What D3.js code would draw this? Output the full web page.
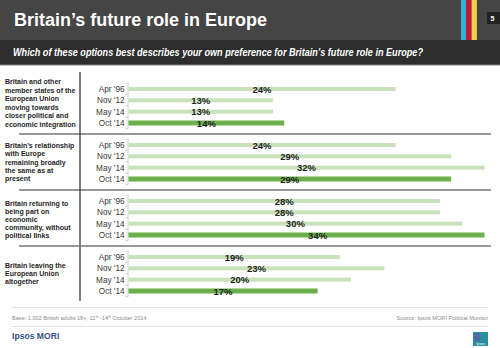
<!DOCTYPE html>
<html>
<head>
<meta charset="utf-8">
<script src="https://cdn.jsdelivr.net/npm/d3@7"></script>
<style>
  html, body { margin: 0; padding: 0; background: #fff; }
  svg { display: block; font-family: "Liberation Sans", Arial, sans-serif; }
</style>
</head>
<body>
<div id="chart"></div>
<script>
// ---- data ----
var periods = ["Apr '96", "Nov '12", "May '14", "Oct '14"];
var categories = ["integration", "same", "economic", "leave"];
var categoryLines = [
  ["Britain and other", "member states of the", "European Union", "moving towards", "closer political and", "economic integration"],
  ["Britain\u2019s relationship", "with Europe", "remaining broadly", "the same as at", "present"],
  ["Britain returning to", "being part on", "economic", "community,  without", "political links"],
  ["Britain leaving the", "European Union", "altogether"]
];
var integrationValues = [24, 13, 13, 14];
var sameValues = [24, 29, 32, 29];
var economicValues = [28, 28, 30, 34];
var leaveValues = [19, 23, 20, 17];

var seriesValues = [integrationValues, sameValues, economicValues, leaveValues];

var width = 500, height = 348;

var svg = d3.select("#chart").append("svg")
    .attr("width", width)
    .attr("height", height);

/* header */
svg.append("rect").attr("x", 0).attr("y", 0).attr("width", width).attr("height", 40).attr("fill", "#454545");
svg.append("rect").attr("x", 0).attr("y", 40).attr("width", width).attr("height", 25).attr("fill", "#2d2d2d");
svg.append("rect").attr("x", 0).attr("y", 64.5).attr("width", width).attr("height", 1).attr("fill", "#888");

var stripes = ["#2fb3cf", "#c8143c", "#efd24a"];
stripes.forEach(function (c, i) {
  svg.append("rect").attr("x", 461 + i * 5.3).attr("y", 0).attr("width", 5.3).attr("height", 40).attr("fill", c);
});

svg.append("rect").attr("x", 487).attr("y", 12).attr("width", 13).attr("height", 12).attr("fill", "#222");
svg.append("text").attr("x", 492.5).attr("y", 21).attr("text-anchor", "middle")
    .attr("fill", "#fff").style("font-size", "7px").style("font-weight", "bold").text("5");

svg.append("text").attr("x", 14).attr("y", 26)
    .attr("fill", "#fff").style("font-size", "18px").style("font-weight", "bold")
    .attr("textLength", 253).attr("lengthAdjust", "spacingAndGlyphs")
    .text("Britain\u2019s future role in Europe");

svg.append("text").attr("x", 13).attr("y", 56)
    .attr("fill", "#fff").style("font-size", "10px").style("font-weight", "bold").style("font-style", "italic")
    .attr("textLength", 410).attr("lengthAdjust", "spacingAndGlyphs")
    .text("Which of these options best describes your own preference for Britain\u2019s future role in Europe?");

/* scales */
var x = d3.scaleLinear().domain([0, 32]).range([128.5, 484.5]).clamp(true);
var xFree = x.copy().clamp(false);

var yPanel = d3.scalePoint().domain(categories).range([89, 257]);
var yRow = d3.scalePoint().domain(periods).range([0, 34]);

/* left divider */
svg.append("line").attr("x1", 80).attr("x2", 80).attr("y1", 72).attr("y2", 301)
    .attr("stroke", "#555").attr("stroke-width", 1.5);

var panels = svg.selectAll(".panel")
    .data(categories)
    .enter().append("g")
    .attr("class", "panel")
    .attr("transform", function (d) { return "translate(0," + yPanel(d) + ")"; });

// category text (first block is taller, so it sits higher)
var labelMid = [14, 17, 18.5, 16.7];
var labelStep = [8.5, 8.1, 8.2, 8];
panels.each(function (d, i) {
  var lines = categoryLines[i];
  var lh = labelStep[i];
  var top = labelMid[i] - (lines.length - 1) * lh / 2;
  d3.select(this).append("text")
      .attr("fill", "#262626")
      .style("font-size", "7px")
      .style("font-weight", "bold")
      .selectAll("tspan")
      .data(lines)
      .enter().append("tspan")
      .attr("x", 5)
      .attr("y", function (l, j) { return top + j * lh + 2.5; })
      .text(function (l) { return l; });
});

// axis line with boundary ticks
panels.append("line").attr("x1", 128).attr("x2", 128).attr("y1", -6).attr("y2", 40)
    .attr("stroke", "#c8c8c8").attr("stroke-width", 0.8);
panels.each(function () {
  var g = d3.select(this);
  d3.range(5).forEach(function (k) {
    var yy = -5.7 + k * 11.33;
    g.append("line").attr("x1", 125.5).attr("x2", 128).attr("y1", yy).attr("y2", yy)
        .attr("stroke", "#c8c8c8").attr("stroke-width", 0.8);
  });
});

// row labels
panels.selectAll(".rowlabel")
    .data(periods)
    .enter().append("text")
    .attr("class", "rowlabel")
    .attr("x", 124.5)
    .attr("y", function (p) { return yRow(p) + 3; })
    .attr("text-anchor", "end")
    .attr("fill", "#3a3a3a")
    .style("font-size", "8.2px")
    .text(function (p) { return p; });

// bars
panels.each(function (c, i) {
  var g = d3.select(this);
  var rows = periods.map(function (p, j) { return {period: p, value: seriesValues[i][j], latest: j === periods.length - 1}; });

  g.selectAll(".bar")
      .data(rows)
      .enter().append("rect")
      .attr("class", "bar")
      .attr("x", x(0))
      .attr("y", function (d) { return yRow(d.period) - (d.latest ? 2.5 : 2); })
      .attr("height", function (d) { return d.latest ? 5 : 4; })
      .attr("width", function (d) { return x(d.value) - x(0); })
      .attr("fill", function (d) { return d.latest ? "#6ab04c" : "#c9e2bb"; });

  g.selectAll(".val")
      .data(rows)
      .enter().append("text")
      .attr("class", "val")
      .attr("x", function (d) { return (xFree(0) + xFree(d.value)) / 2; })
      .attr("y", function (d) { return yRow(d.period) + 3.5; })
      .attr("text-anchor", "middle")
      .attr("fill", "#222")
      .style("font-size", "9.5px")
      .style("font-weight", "bold")
      .text(function (d) { return d.value + "%"; });
});

// separators between panels
var seps = categories.slice(0, 3);
svg.selectAll(".sep")
    .data(seps)
    .enter().append("line")
    .attr("class", "sep")
    .attr("x1", 19).attr("x2", 491)
    .attr("y1", function (d) { return yPanel(d) + 45; })
    .attr("y2", function (d) { return yPanel(d) + 45; })
    .attr("stroke", function (d, i) { return i === 2 ? "#777" : "#333"; })
    .attr("stroke-width", function (d, i) { return i === 2 ? 1.6 : 1.1; });

/* footer */
svg.append("line").attr("x1", 12).attr("x2", 488).attr("y1", 307.5).attr("y2", 307.5)
    .attr("stroke", "#e2e2e2").attr("stroke-width", 1);
svg.append("line").attr("x1", 12).attr("x2", 488).attr("y1", 326.5).attr("y2", 326.5)
    .attr("stroke", "#e2e2e2").attr("stroke-width", 1);

var base = svg.append("text").attr("x", 12).attr("y", 319.5)
    .attr("fill", "#8a8a8a").style("font-size", "5.6px");
base.append("tspan").text("Base: 1,002 British adults 18+, 11");
base.append("tspan").attr("dy", -2).style("font-size", "3.6px").text("th");
base.append("tspan").attr("dy", 2).text(" -14");
base.append("tspan").attr("dy", -2).style("font-size", "3.6px").text("th");
base.append("tspan").attr("dy", 2).text(" October 2014");

svg.append("text").attr("x", 488).attr("y", 319.5).attr("text-anchor", "end")
    .attr("fill", "#8a8a8a").style("font-size", "5.6px")
    .text("Source: Ipsos MORI  Political Monitor");

svg.append("text").attr("x", 12).attr("y", 339)
    .attr("fill", "#34508a").style("font-size", "8.6px").style("font-weight", "bold")
    .text("Ipsos MORI");

svg.append("rect").attr("x", 473).attr("y", 332).attr("width", 15).attr("height", 14).attr("fill", "#2b8e9e");
svg.append("rect").attr("x", 474).attr("y", 333).attr("width", 6).attr("height", 8).attr("fill", "#4a6aa8");
svg.append("text").attr("x", 480.5).attr("y", 344.5).attr("text-anchor", "middle")
    .attr("fill", "#fff").style("font-size", "3.5px").text("Ipsos");
</script>
</body>
</html>
